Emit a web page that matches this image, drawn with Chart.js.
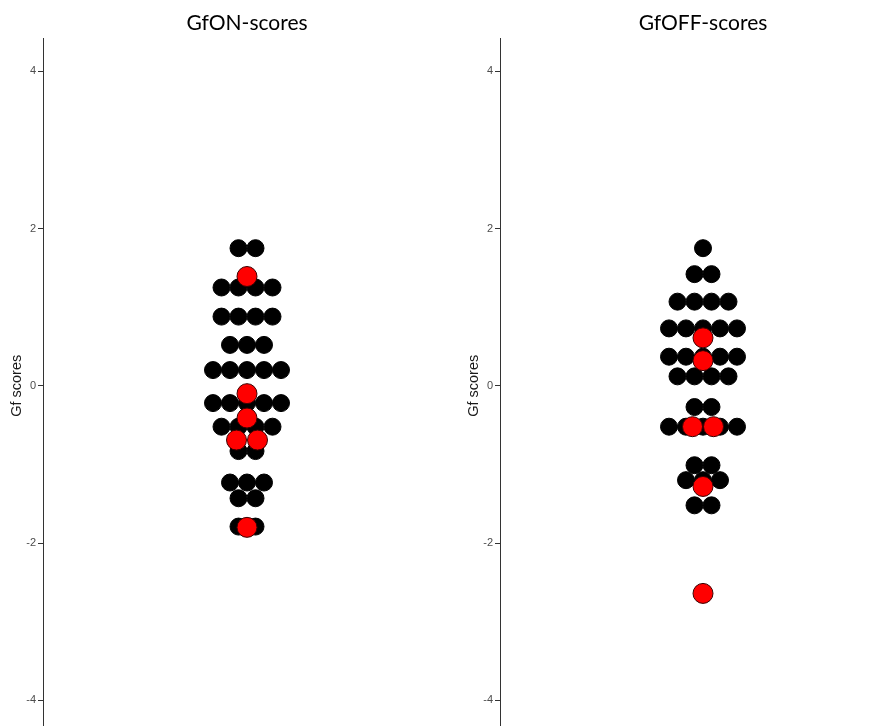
<!DOCTYPE html>
<html>
<head>
<meta charset="utf-8">
<script src="https://cdn.jsdelivr.net/npm/chart.js@4.4.1/dist/chart.umd.min.js"></script>
<style>
  html, body { margin: 0; padding: 0; background: #fff; }
  body { width: 893px; height: 726px; overflow: hidden; position: relative; }
  canvas { position: absolute; top: 0; }
</style>
</head>
<body>
<canvas id="onChart" width="451" height="742" style="left:0px"></canvas>
<canvas id="offChart" width="449" height="742" style="left:457px"></canvas>
<script>
// Gf scores (one value per subject)
const onBlack = [1.75, 1.75,
    1.25, 1.25, 1.25, 1.25,
    0.88, 0.88, 0.88, 0.88,
    0.52, 0.52, 0.52,
    0.2, 0.2, 0.2, 0.2, 0.2,
    -0.22, -0.22, -0.22, -0.22, -0.22,
    -0.52, -0.52, -0.52, -0.52,
    -0.83, -0.83,
    -1.23, -1.23, -1.23,
    -1.43, -1.43,
    -1.79, -1.79];
const onRed = [1.39, -0.1, -0.41, -0.69, -0.69, -1.8];

const offBlack = [1.75,
    1.42, 1.42,
    1.07, 1.07, 1.07, 1.07,
    0.73, 0.73, 0.73, 0.73, 0.73,
    0.37, 0.37, 0.37, 0.37, 0.37,
    0.12, 0.12, 0.12, 0.12,
    -0.27, -0.27,
    -0.52, -0.52, -0.52, -0.52, -0.52,
    -1.01, -1.01,
    -1.2, -1.2, -1.2,
    -1.52, -1.52];
const offRed = [0.61, 0.32, -0.52, -0.52, -1.28, -2.64];

const yTicks = [-4, -2, 0, 2, 4];
const yMin = -4.42, yMax = 4.42;

// centre-stack equal values side by side (like a dotplot)
function stackDots(values, spacing) {
    const counts = {};
    values.forEach(v => { counts[v] = (counts[v] || 0) + 1; });
    const seen = {};
    return values.map(v => {
        const k = seen[v] || 0;
        seen[v] = k + 1;
        return { x: (k - (counts[v] - 1) / 2) * spacing, y: v };
    });
}

function makePanel(id, title, black, red, halfWidth) {
    const ctx = document.getElementById(id).getContext('2d');
    return new Chart(ctx, {
        type: 'scatter',
        data: {
            datasets: [{
                label: 'red',
                data: stackDots(red, 21),
                backgroundColor: '#ff0000',
                borderColor: '#3a0000',
                borderWidth: 1,
                pointRadius: 10,
                pointHoverRadius: 10
            }, {
                label: 'black',
                data: stackDots(black, 17),
                backgroundColor: '#000000',
                borderColor: '#000000',
                borderWidth: 1,
                pointRadius: 8.5,
                pointHoverRadius: 8.5
            }]
        },
        options: {
            responsive: false,
            animation: false,
            layout: { padding: 0, autoPadding: false },
            plugins: {
                legend: { display: false },
                tooltip: { enabled: false },
                title: {
                    display: true,
                    text: title,
                    fullSize: false,
                    color: '#000',
                    font: { family: 'Lato', size: 21, weight: 'normal', lineHeight: 1.2 },
                    padding: { top: 11, bottom: 2 }
                }
            },
            scales: {
                x: { type: 'linear', display: false, min: -halfWidth, max: halfWidth },
                y: {
                    type: 'linear',
                    min: yMin,
                    max: yMax,
                    afterBuildTicks: axis => { axis.ticks = yTicks.map(v => ({ value: v })); },
                    afterFit: axis => { axis.width = 43; },
                    grid: { drawOnChartArea: false, drawTicks: true, tickLength: 5, color: '#333' },
                    border: { display: true, color: '#333', width: 1 },
                    ticks: {
                        color: '#4d4d4d',
                        padding: 2,
                        font: { family: 'Liberation Sans', size: 11 }
                    },
                    title: {
                        display: true,
                        text: 'Gf scores',
                        color: '#1a1a1a',
                        padding: { top: 8, bottom: 0 },
                        font: { family: 'Liberation Sans', size: 14.5 }
                    }
                }
            }
        }
    });
}

makePanel('onChart', 'GfON-scores', onBlack, onRed, 204);
makePanel('offChart', 'GfOFF-scores', offBlack, offRed, 203);
</script>
</body>
</html>
